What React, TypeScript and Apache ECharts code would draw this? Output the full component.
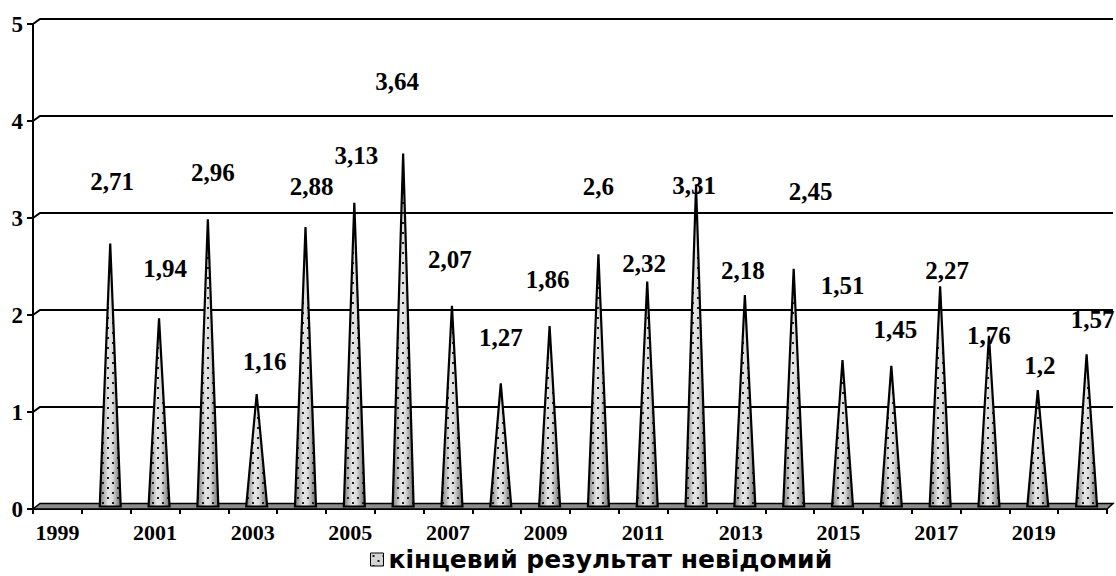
import React, { useEffect, useRef } from 'react';
import * as echarts from 'echarts';

const years = ['1999', '2000', '2001', '2002', '2003', '2004', '2005', '2006', '2007', '2008', '2009', '2010', '2011', '2012', '2013', '2014', '2015', '2016', '2017', '2018', '2019', '2020'];
const values: (number | null)[] = [null, 2.71, 1.94, 2.96, 1.16, 2.88, 3.13, 3.64, 2.07, 1.27, 1.86, 2.6, 2.32, 3.31, 2.18, 2.45, 1.51, 1.45, 2.27, 1.76, 1.2, 1.57];
const yTicks = [1, 2, 3, 4, 5];
const seriesName = 'кінцевий результат невідомий';
// label displacement from the spike tip (px), as placed in the original
const labelShiftX = [0, 2, 6, 5, 8, 6, 2, -6, -2, 0, -2, 0, -3, -2, -2, 17, 0, 4, 7, 0, 2, 6];
const labelShiftY = [0, -62, -50, -47, -32, -41, -47, -72, -46, -46, -47, -68, -18, 0, -25, -77, -75, -36, -16, 0, -25, -35];

const fmt = (v: number) => String(v).replace('.', ',');

function makeDots(bg: string | null) {
  const c = document.createElement('canvas');
  c.width = 10;
  c.height = 10;
  const ctx = c.getContext('2d')!;
  if (bg) {
    ctx.fillStyle = bg;
    ctx.fillRect(0, 0, 10, 10);
  }
  ctx.fillStyle = '#1a1a1a';
  ctx.fillRect(2, 2, 2, 2);
  ctx.fillRect(7, 7, 2, 2);
  return c;
}

export default function App() {
  const ref = useRef<HTMLDivElement>(null);
  useEffect(() => {
    const chart = echarts.init(ref.current!, null, { renderer: 'svg' });
    const dots = makeDots(null);
    const legendDots = makeDots('#d6d6d6');
    const DX = 4;
    const DY = -2.5;
    const HW = 10.5;
    const spikeData = values
      .map((v, i) => [i, v])
      .filter((d) => d[1] !== null);
    const serif = '"Liberation Serif", "Times New Roman", serif';

    const option: any = {
      animation: false,
      backgroundColor: '#fff',
      grid: { left: 33, right: 9, top: 24, bottom: 67, containLabel: false },
      legend: {
        data: [{ name: seriesName, icon: 'rect' }],
        left: 365,
        top: 542,
        padding: 5,
        itemWidth: 13,
        itemHeight: 13,
        itemGap: 4,
        textStyle: { fontFamily: '"DejaVu Sans", Verdana, sans-serif', fontWeight: 'bold', fontSize: 25, lineHeight: 25, color: '#000' },
        itemStyle: { color: { image: legendDots, repeat: 'repeat' }, borderColor: '#000', borderWidth: 1 },
      },
      xAxis: {
        type: 'category',
        data: years,
        boundaryGap: true,
        axisLine: { show: true, lineStyle: { color: '#000', width: 2 } },
        axisTick: { show: true, interval: 0, length: 5, lineStyle: { color: '#000', width: 2 } },
        axisLabel: {
          interval: 1,
          margin: 12,
          color: '#000',
          fontFamily: serif,
          fontWeight: 'bold',
          fontSize: 22,
          lineHeight: 22,
        },
        splitLine: { show: false },
      },
      yAxis: {
        type: 'value',
        min: 0,
        max: 5,
        interval: 1,
        axisLine: { show: true, lineStyle: { color: '#000', width: 2 } },
        axisTick: { show: true, length: 6, lineStyle: { color: '#000', width: 2 } },
        axisLabel: {
          margin: 10,
          color: '#000',
          fontFamily: serif,
          fontWeight: 'bold',
          fontSize: 23,
        },
        splitLine: { show: false },
      },
      series: [
        {
          type: 'custom',
          name: 'grid',
          silent: true,
          z: 1,
          data: yTicks.map((v) => [0, v]),
          encode: { x: 0, y: 1 },
          renderItem: (params: any, api: any) => {
            const cs = params.coordSys;
            const y = api.coord([0, api.value(1)])[1];
            return {
              type: 'polyline',
              shape: { points: [[cs.x, y], [cs.x + 7, y - 5], [cs.x + cs.width + 6, y - 5]] },
              style: { stroke: '#000', lineWidth: 2, fill: 'none' },
            };
          },
        },
        {
          type: 'custom',
          name: 'floor',
          silent: true,
          z: 2,
          data: [[0, 0]],
          encode: { x: 0, y: 1 },
          renderItem: (params: any, api: any) => {
            const cs = params.coordSys;
            const y = api.coord([0, 0])[1];
            return {
              type: 'polygon',
              shape: { points: [[cs.x, y], [cs.x + cs.width, y], [cs.x + cs.width + 6, y - 5.5], [cs.x + 7, y - 5.5]] },
              style: { fill: '#8c8c8c', stroke: '#000', lineWidth: 1.5 },
            };
          },
        },
        {
          type: 'custom',
          name: 'labels',
          silent: true,
          z: 3,
          data: spikeData,
          encode: { x: 0, y: 1 },
          renderItem: (params: any, api: any) => {
            const i = api.value(0);
            const v = api.value(1);
            const t = api.coord([i, v]);
            return {
              type: 'text',
              x: t[0] + DX + labelShiftX[i],
              y: t[1] + DY + labelShiftY[i],
              style: {
                text: fmt(v),
                fill: '#000',
                font: 'bold 25px "Liberation Serif", "Times New Roman", serif',
                align: 'center',
                verticalAlign: 'middle',
              },
            };
          },
        },
        {
          type: 'custom',
          name: seriesName,
          z: 4,
          itemStyle: { color: '#d6d6d6' },
          data: spikeData,
          encode: { x: 0, y: 1 },
          renderItem: (params: any, api: any) => {
            const i = api.value(0);
            const v = api.value(1);
            const b = api.coord([i, 0]);
            const t = api.coord([i, v]);
            const pts = [
              [b[0] + DX - HW, b[1] + DY],
              [t[0] + DX, t[1] + DY],
              [b[0] + DX + HW, b[1] + DY],
            ];
            return {
              type: 'group',
              children: [
                {
                  type: 'polygon',
                  shape: { points: pts },
                  style: {
                    fill: new echarts.graphic.LinearGradient(0, 0, 1, 0, [
                      { offset: 0, color: '#7c7c7c' },
                      { offset: 0.4, color: '#e6e6e6' },
                      { offset: 0.6, color: '#dcdcdc' },
                      { offset: 1, color: '#6e6e6e' },
                    ]),
                    stroke: 'none',
                  },
                },
                {
                  type: 'polygon',
                  shape: { points: pts },
                  style: {
                    fill: { image: dots, repeat: 'repeat' },
                    stroke: '#000',
                    lineWidth: 2.2,
                  },
                },
              ],
            };
          },
        },
      ],
    };
    chart.setOption(option);
    return () => chart.dispose();
  }, []);
  return (
    <div
      ref={ref}
      style={{ position: 'absolute', left: 0, top: 0, width: 1116, height: 576, background: '#fff' }}
    />
  );
}
